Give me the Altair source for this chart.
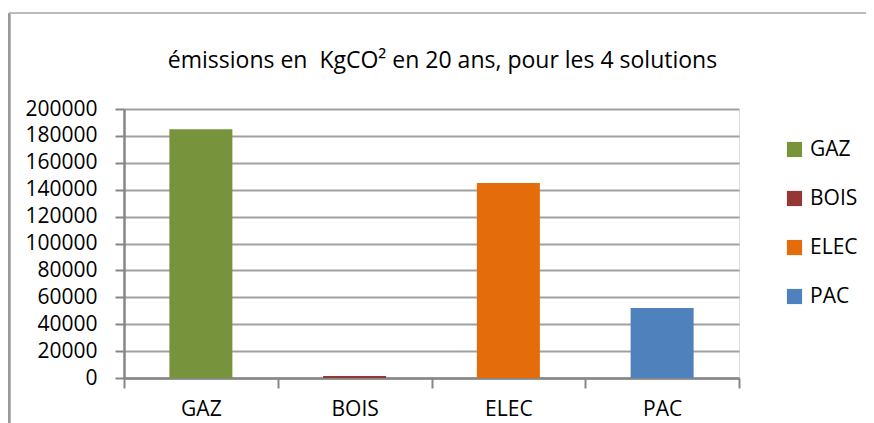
import altair as alt
import pandas as pd

categories = ["GAZ", "BOIS", "ELEC", "PAC"]
values = [185000, 1500, 145000, 52000]
colors = ["#77933C", "#953735", "#E46C0A", "#4F81BD"]
y_ticks = list(range(0, 200001, 20000))
title_text = "émissions en\u00a0 KgCO² en 20 ans, pour les 4 solutions"

df = pd.DataFrame({"cat": categories, "val": values})

FONT = "Open Sans"
FS = 21
W, H = 615, 269

bars = alt.Chart(df).mark_bar(size=63).encode(
    x=alt.X("cat:N", sort=categories, title=None,
            scale=alt.Scale(paddingInner=0, paddingOuter=0),
            axis=alt.Axis(labelAngle=0, labelFont=FONT, labelFontSize=FS, labelColor="#000",
                          domainColor="#868686", domainWidth=2.5, tickColor="#868686",
                          tickWidth=2, tickSize=10, tickBand="extent", labelPadding=10,
                          grid=False)),
    y=alt.Y("val:Q", title=None,
            scale=alt.Scale(domain=[0, 200000], nice=False),
            axis=alt.Axis(values=y_ticks, labelFont=FONT, labelFontSize=FS, labelColor="#000",
                          domainColor="#868686", domainWidth=2.5, tickColor="#868686",
                          tickWidth=2, tickSize=9, labelPadding=18, gridColor="#A0A0A0",
                          gridWidth=2, format="d")),
    color=alt.Color("cat:N", sort=categories,
                    scale=alt.Scale(domain=categories, range=colors),
                    legend=alt.Legend(title=None, orient="none", legendX=660, legendY=30,
                                      symbolType="square", symbolSize=230, symbolStrokeWidth=0,
                                      labelFont=FONT, labelFontSize=FS, labelColor="#000",
                                      rowPadding=27, labelOffset=5)),
)

frame_left = alt.Chart(df).mark_rule(color="#999999", strokeWidth=2.5).encode(
    x=alt.value(-115), y=alt.value(-96), y2=alt.value(330))
frame_top = alt.Chart(df).mark_rule(color="#BBBBBB", strokeWidth=1.5).encode(
    x=alt.value(-115), x2=alt.value(760), y=alt.value(-96))

chart = alt.layer(bars, frame_left, frame_top).properties(
    width=W, height=H,
    title=alt.TitleParams(title_text, font=FONT, fontSize=23, fontWeight="normal",
                          color="#000", anchor="middle", dx=11, offset=-61),
    padding={"left": 116, "top": 101, "right": 127, "bottom": 45},
    autosize=alt.AutoSizeParams(type="none"),
).configure_view(stroke=None).configure(background="white")

chart.save("out.html", embed_options={"renderer": "svg", "actions": False})
